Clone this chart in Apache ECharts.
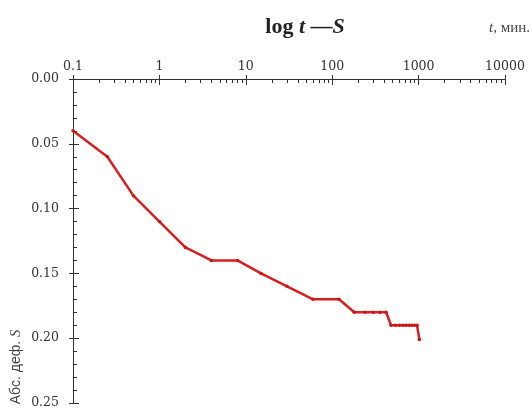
<!DOCTYPE html>
<html>
<head>
<meta charset="utf-8">
<script src="https://cdn.jsdelivr.net/npm/echarts@6/dist/echarts.min.js"></script>
<style>
  html, body { margin: 0; padding: 0; background: #fff; }
  #chart { width: 531px; height: 408px; }
</style>
</head>
<body>
<div id="chart"></div>
<script>
// time, min (log scale)
var times = [0.1, 0.25, 0.5, 1, 2, 4, 8, 15, 30, 60, 120, 180, 240, 300, 360, 420,
             480, 540, 600, 660, 720, 780, 840, 900, 960, 1020];
// absolute deformation S
var deform = [0.04, 0.06, 0.09, 0.11, 0.13, 0.14, 0.14, 0.15, 0.16, 0.17, 0.17, 0.18, 0.18, 0.18, 0.18, 0.18,
              0.19, 0.19, 0.19, 0.19, 0.19, 0.19, 0.19, 0.19, 0.19, 0.201];
var decades = [0.1, 1, 10, 100, 1000];
var yTicks = [0, 0.05, 0.1, 0.15, 0.2, 0.25];

// minor ticks 2..9 inside each decade
var minorX = [];
for (var i = 0; i < decades.length; i++) {
    for (var k = 2; k <= 9; k++) {
        minorX.push(+(decades[i] * k).toPrecision(3));
    }
}

var serif = '"DejaVu Serif", "Liberation Serif", serif';
var axisColor = '#333';
var labelColor = '#333';

var chart = echarts.init(document.getElementById('chart'), null, {renderer: 'canvas'});

var seriesData = [];
for (var j = 0; j < times.length; j++) {
    seriesData.push([times[j], deform[j]]);
}

chart.setOption({
    animation: false,
    backgroundColor: '#fff',
    grid: {left: 73, right: 26, top: 79, bottom: 5, outerBoundsMode: 'none'},
    xAxis: [{
        type: 'log',
        logBase: 10,
        position: 'top',
        min: 0.1,
        max: 10000,
        axisLine: {lineStyle: {color: axisColor, width: 1}},
        axisTick: {show: true, inside: false, length: 4, lineStyle: {color: axisColor}},
        axisLabel: {
            margin: 6,
            color: labelColor,
            fontFamily: serif,
            fontSize: 12.5,
            formatter: function(v) { return String(+v.toPrecision(3)); }
        },
        splitLine: {show: false}
    }, {
        // inner half of the major ticks
        type: 'log',
        logBase: 10,
        position: 'top',
        offset: 0,
        min: 0.1,
        max: 10000,
        axisLine: {show: false},
        axisTick: {show: true, inside: true, length: 6, lineStyle: {color: axisColor}},
        axisLabel: {show: false},
        splitLine: {show: false}
    }, {
        // minor ticks
        type: 'log',
        logBase: 10,
        position: 'top',
        offset: 0,
        min: 0.1,
        max: 10000,
        axisLine: {show: false},
        axisTick: {show: true, inside: true, length: 4, customValues: minorX, lineStyle: {color: axisColor}},
        axisLabel: {show: false},
        splitLine: {show: false}
    }],
    yAxis: [{
        type: 'value',
        inverse: true,
        min: 0,
        max: 0.25,
        interval: 0.05,
        axisLine: {show: true, lineStyle: {color: axisColor, width: 1}},
        axisTick: {show: true, inside: false, length: 4, lineStyle: {color: axisColor}},
        axisLabel: {
            margin: 14,
            color: labelColor,
            fontFamily: serif,
            fontSize: 12.5,
            customValues: yTicks,
            formatter: function(v) { return v.toFixed(2); }
        },
        splitLine: {show: false}
    }, {
        type: 'value',
        inverse: true,
        position: 'left',
        offset: 0,
        min: 0,
        max: 0.25,
        interval: 0.05,
        axisLine: {show: false},
        axisTick: {show: true, inside: true, length: 6, lineStyle: {color: axisColor}},
        minorTick: {show: true, splitNumber: 5, length: 4, lineStyle: {color: axisColor}},
        axisLabel: {show: false},
        splitLine: {show: false}
    }],
    series: [{
        type: 'line',
        xAxisIndex: 0,
        yAxisIndex: 0,
        data: seriesData,
        symbol: 'circle',
        symbolSize: 3.5,
        color: '#d81f1f',
        lineStyle: {width: 2.5, color: '#d81f1f'},
        itemStyle: {color: '#c81818'}
    }],
    graphic: [{
        type: 'text',
        x: 305,
        y: 27,
        style: {
            text: '{a|log }{b|t}{a| —}{b|S}',
            align: 'center',
            verticalAlign: 'middle',
            rich: {
                a: {fontFamily: '"Liberation Serif", serif', fontWeight: 'bold', fontSize: 22, fill: '#222'},
                b: {fontFamily: '"Liberation Serif", serif', fontWeight: 'bold', fontStyle: 'italic', fontSize: 22, fill: '#222'}
            }
        }
    }, {
        type: 'text',
        x: 530,
        y: 28,
        style: {
            text: '{i|t}{n|, мин.}',
            align: 'right',
            verticalAlign: 'middle',
            rich: {
                i: {fontFamily: '"Liberation Serif", serif', fontStyle: 'italic', fontSize: 15, fill: '#444'},
                n: {fontFamily: '"Liberation Serif", serif', fontSize: 15, fill: '#444'}
            }
        }
    }, {
        type: 'text',
        x: 16,
        y: 367,
        rotation: Math.PI / 2,
        style: {
            text: '{n|Абс. деф. }{i|S}',
            align: 'center',
            verticalAlign: 'middle',
            rich: {
                n: {fontFamily: '"Liberation Sans", sans-serif', fontSize: 14, fill: '#444'},
                i: {fontFamily: '"Liberation Serif", serif', fontStyle: 'italic', fontSize: 14.5, fill: '#444'}
            }
        }
    }]
});
</script>
</body>
</html>
